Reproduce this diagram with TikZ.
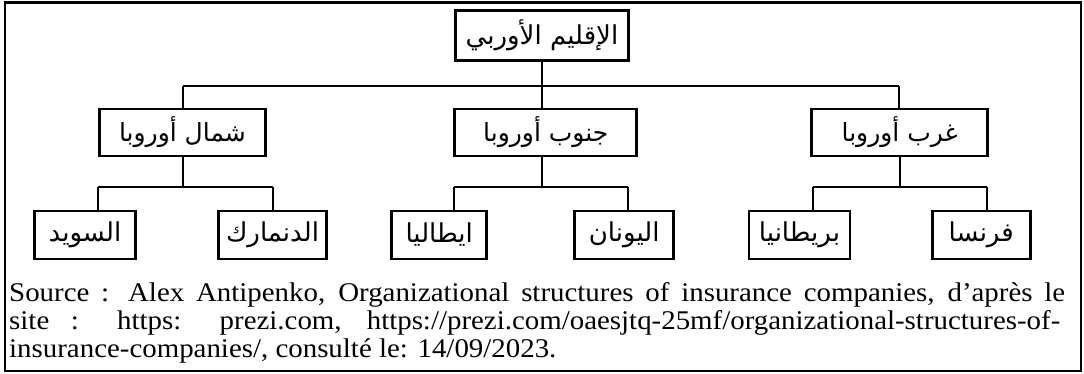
\documentclass[tikz,border=0pt]{standalone}
\usepackage{fontspec}
\TeXXeTstate=1
\newfontfamily\arabicfont[Script=Arabic]{DejaVu Sans}
\newfontfamily\srcfont[FakeStretch=1.07]{Liberation Serif}
\begin{document}
\begin{tikzpicture}[x=1bp,y=-1bp,
  orgbox/.style={draw,line width=2.8bp,inner sep=0pt,align=center},
  toplevel/.style={orgbox,minimum width=173bp,minimum height=50bp,font=\arabicfont\fontsize{26bp}{30bp}\selectfont},
  region/.style={orgbox,minimum height=47bp,font=\arabicfont\fontsize{25bp}{29bp}\selectfont},
  country/.style={orgbox,minimum height=48bp,font=\arabicfont\fontsize{26bp}{30bp}\selectfont},
  link/.style={line width=2bp},
  srcline/.style={inner sep=0pt,anchor=base west,font=\srcfont\fontsize{27bp}{27.8bp}\selectfont}]
\useasboundingbox (0,0) rectangle (1084,373);
% outer frame
\draw[line width=2.2bp] (5,2.5) rectangle (1081,371);

% top of the hierarchy
\node[toplevel] (eu) at (542,35.5) {\beginR الإقليم الأوربي\endR};

% regions
\node[region,minimum width=166bp] (north) at (182.5,132.5) {\beginR شمال أوروبا\endR};
\node[region,minimum width=182bp] (south) at (545.8,132.5) {\beginR جنوب أوروبا\endR};
\node[region,minimum width=176bp] (west)  at (899.7,132.5) {\beginR غرب أوروبا\endR};

% countries
\node[country,minimum width=101bp] (se) at (85,235)    {\beginR السويد\endR};
\node[country,minimum width=108bp] (dk) at (272.5,235) {\beginR الدنمارك\endR};
\node[country,minimum width=95bp]  (it) at (439.2,235) {\beginR ايطاليا\endR};
\node[country,minimum width=99bp]  (gr) at (624.2,235) {\beginR اليونان\endR};
\node[country,minimum width=101bp] (gb) at (799.5,235) {\beginR بريطانيا\endR};
\node[country,minimum width=98bp]  (fr) at (981.2,235) {\beginR فرنسا\endR};

% branching points
\coordinate (b1) at (183,86);
\coordinate (b2) at (542,86);
\coordinate (b3) at (899.3,86);
\coordinate (n1) at (98,187);
\coordinate (n2) at (273,187);
\coordinate (s1) at (454.3,187);
\coordinate (s2) at (628.3,187);
\coordinate (w1) at (812.7,187);
\coordinate (w2) at (986.7,187);

% first level connectors
\draw[link] (eu.south -| b2) -- (b2);
\draw[link] (b1) -- (b3);
\draw[link] (b1) -- (b1 |- north.north);
\draw[link] (b2) -- (b2 |- south.north);
\draw[link] (b3) -- (b3 |- west.north);

% second level connectors
\draw[link] (north.south) -- (north.south |- n1);
\draw[link] (n1) -- (n2);
\draw[link] (n1) -- (n1 |- se.north);
\draw[link] (n2) -- (n2 |- dk.north);
\draw[link] (south.south -| b2) -- (b2 |- s1);
\draw[link] (s1) -- (s2);
\draw[link] (s1) -- (s1 |- it.north);
\draw[link] (s2) -- (s2 |- gr.north);
\draw[link] (west.south) -- (west.south |- w1);
\draw[link] (w1) -- (w2);
\draw[link] (w1) -- (w1 |- gb.north);
\draw[link] (w2) -- (w2 |- fr.north);

% source note
\node[srcline] (src1) at (9,301.7) {\hbox to 1056bp{Source : Alex Antipenko, Organizational structures of insurance companies, d’après le}};
\node[srcline] (src2) at (9,329.4) {\hbox to 1051bp{site : https: prezi.com, https://prezi.com/oaesjtq-25mf/organizational-structures-of-}};
\node[srcline] (src3) at (9,357) {insurance-companies/, consulté le: 14/09/2023.};
\end{tikzpicture}
\end{document}
